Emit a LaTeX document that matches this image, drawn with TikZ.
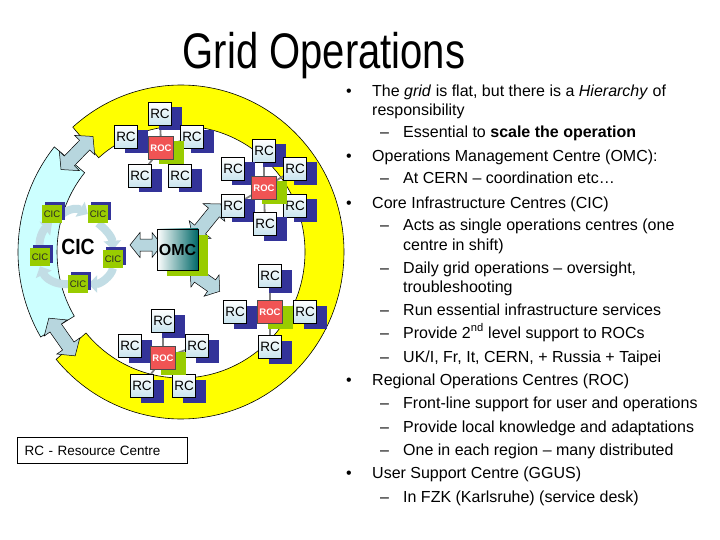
\documentclass[tikz,border=0pt]{standalone}
\usepackage{fontspec}
\setmainfont{Liberation Sans}
\usetikzlibrary{calc,arrows.meta,shadows}
\definecolor{ringY}{RGB}{255,255,0}
\definecolor{ringC}{RGB}{204,255,255}
\definecolor{fatA}{RGB}{183,214,222}
\definecolor{cicA}{RGB}{194,221,229}
\definecolor{navyS}{RGB}{51,51,153}
\definecolor{greenS}{RGB}{153,204,0}
\definecolor{rocR}{RGB}{240,84,84}
\definecolor{rcB}{RGB}{200,228,238}
\definecolor{omcT}{RGB}{0,104,104}
\definecolor{conG}{RGB}{128,128,128}
\pgfdeclarelayer{back}
\pgfdeclarelayer{mid}
\pgfsetlayers{back,mid,main}
\newcommand\DArr[7]{\filldraw[fatarrow,shift={(#1,#2)},rotate=#3]
 (-#4,0) -- (-#4+#7,#6) -- (-#4+#7,#5) -- (#4-#7,#5) -- (#4-#7,#6) -- (#4,0)
 -- (#4-#7,-#6) -- (#4-#7,-#5) -- (-#4+#7,-#5) -- (-#4+#7,-#6) -- cycle;}
\begin{document}
\begin{tikzpicture}[x=1pt,y=-1pt,
 rcbox/.style={draw=black, line width=0.5pt, minimum width=23pt, minimum height=23pt, inner sep=0pt,
   top color=white, bottom color=rcB, font=\fontsize{13.5}{15}\selectfont,
   general shadow={fill=navyS, draw=none, shadow xshift=10pt, shadow yshift=-5pt}},
 rocbox/.style={draw=black!70, line width=0.4pt, fill=rocR, minimum width=25pt, minimum height=23pt,
   inner sep=0pt, text=white, font=\fontsize{9.5}{10}\selectfont\bfseries,
   general shadow={fill=greenS, draw=none, shadow xshift=10pt, shadow yshift=-5pt}},
 cicbox/.style={fill=greenS, minimum width=20pt, minimum height=18pt, inner sep=0pt,
   font=\fontsize{9.5}{10}\selectfont, text=black!85,
   general shadow={fill=navyS, draw=none, shadow xshift=3pt, shadow yshift=3pt}},
 omcbox/.style={draw=black, line width=0.6pt, minimum size=41pt, inner sep=0pt,
   left color=white, right color=omcT, font=\fontsize{16}{18}\selectfont\bfseries,
   general shadow={fill=greenS, draw=none, shadow xshift=10pt, shadow yshift=-6pt}},
 fatarrow/.style={fill=fatA, draw=black, line width=0.5pt, line join=miter},
 cicflow/.style={draw=cicA, line width=8pt, -{Triangle[width=17pt,length=9pt]}},
 con/.style={draw=conG, line width=1.8pt},
 ringedge/.style={draw=black, line width=0.6pt},
 txt/.style={anchor=base west, inner sep=0pt, font=\fontsize{16}{19}\selectfont},
 bul/.style={anchor=base, inner sep=0pt, font=\fontsize{16}{19}\selectfont}
]
\useasboundingbox (0,0) rectangle (720,540);
\begin{pgfonlayer}{back}
\fill[white] (0,0) rectangle (720,540);
\coordinate (C) at (181,252);
\filldraw[ringedge, fill=ringY] ($(C)+(-131.6:163 and 167)$) arc[start angle=-131.6, end angle=140, x radius=163, y radius=167]
  -- ($(C)+(140:124 and 126)$) arc[start angle=140, end angle=-131.6, x radius=124, y radius=126] -- cycle;
\filldraw[ringedge, fill=ringC] ($(C)+(149.4:163 and 167)$) arc[start angle=149.4, end angle=219, x radius=163, y radius=167]
  -- ($(C)+(219:124 and 126)$) arc[start angle=219, end angle=149.4, x radius=124, y radius=126] -- cycle;
\end{pgfonlayer}

% title
\node[anchor=base, inner sep=0pt, font=\fontsize{50}{56}\selectfont] (title) at (324,69) {\scalebox{0.8}[1]{Grid Operations}};

% cluster A
\node[rcbox] (a1) at (160,114) {RC};
\node[rcbox] (a2) at (126,137) {RC};
\node[rcbox] (a3) at (192,137) {RC};
\node[rcbox] (a4) at (140,176) {RC};
\node[rcbox] (a5) at (180,176) {RC};
\node[rocbox] (rocA) at (161,148) {ROC};
% cluster B
\node[rcbox] (b1) at (264,151) {RC};
\node[rcbox] (b2) at (233,169) {RC};
\node[rcbox] (b3) at (295,169) {RC};
\node[rcbox] (b4) at (233,206) {RC};
\node[rcbox] (b5) at (295,206) {RC};
\node[rcbox] (b6) at (265,224) {RC};
\node[rocbox] (rocB) at (264,188) {ROC};
% cluster C
\node[rcbox] (c1) at (270,276) {RC};
\node[rcbox] (c2) at (235,312) {RC};
\node[rcbox] (c3) at (305,312) {RC};
\node[rcbox] (c4) at (270,347) {RC};
\node[rocbox] (rocC) at (270,312) {ROC};
% cluster D
\node[rcbox] (d1) at (163,321) {RC};
\node[rcbox] (d2) at (130,346) {RC};
\node[rcbox] (d3) at (197,346) {RC};
\node[rcbox] (d4) at (142,386) {RC};
\node[rcbox] (d5) at (184,386) {RC};
\node[rocbox] (rocD) at (163,358) {ROC};

% CIC cluster
\node[cicbox] (k1) at (52,214) {CIC};
\node[cicbox] (k2) at (98,214) {CIC};
\node[cicbox] (k3) at (113,259) {CIC};
\node[cicbox] (k4) at (78,284) {CIC};
\node[cicbox] (k5) at (40,257) {CIC};
\node[inner sep=0pt, font=\fontsize{22}{24}\selectfont\bfseries] (cicl) at (78,247) {\scalebox{0.88}[1]{CIC}};

% OMC
\node[omcbox] (omc) at (177.5,249.5) {OMC};

\begin{pgfonlayer}{mid}
\DArr{77}{153}{46}{23}{7}{14}{12}
\DArr{62}{337}{-55}{23}{7}{14}{12}
\DArr{146}{245}{0}{16}{6}{12.5}{10}
\DArr{207}{221}{51}{22}{7}{14}{11}
\DArr{205}{281}{-35}{18}{7}{13}{10}
\foreach \n in {a1,a2,a3,a4,a5} \draw[con] (rocA) -- (\n);
\foreach \n in {b1,b2,b3,b4,b5,b6} \draw[con] (rocB) -- (\n);
\foreach \n in {c1,c2,c3,c4} \draw[con] (rocC) -- (\n);
\foreach \n in {d1,d2,d3,d4,d5} \draw[con] (rocD) -- (\n);
\draw[cicflow] (k1.east) .. controls (70,208) and (78,208) .. (k2.west);
\draw[cicflow] (k2.south) .. controls (104,228) and (112,236) .. (k3.north);
\draw[cicflow] (k3.south) .. controls (111,277) and (100,284) .. (k4.east);
\draw[cicflow] (k4.west) .. controls (56,285) and (46,279) .. (k5.south);
\draw[cicflow] (k5.north) .. controls (38,240) and (43,230) .. (k1.south);
\end{pgfonlayer}

% legend
\node[draw=black, line width=1.3pt, anchor=north west, minimum height=26pt, text width=156pt, inner xsep=7pt,
  align=left, font=\fontsize{13.5}{15}\selectfont] (legend) at (17,437) {RC - Resource Centre};

% bullet text
\node[bul] (p1) at (349,97) {•};
\node[txt] (t1) at (372,97) {The \textit{grid} is flat, but there is a \textit{Hierarchy} of};
\node[txt] (t2) at (372,116) {responsibility};
\node[txt] (d3a) at (380,138) {–};
\node[txt] (t3) at (403,138) {Essential to \textbf{scale the operation}};
\node[bul] (p2) at (349,162) {•};
\node[txt] (t4) at (372,162) {Operations Management Centre (OMC):};
\node[txt] (d5a) at (380,184) {–};
\node[txt] (t5) at (403,184) {At CERN – coordination etc…};
\node[bul] (p3) at (349,208) {•};
\node[txt] (t6) at (372,208) {Core Infrastructure Centres (CIC)};
\node[txt] (d7a) at (380,230) {–};
\node[txt] (t7) at (403,230) {Acts as single operations centres (one};
\node[txt] (t8) at (403,250) {centre in shift)};
\node[txt] (d9a) at (380,273) {–};
\node[txt] (t9) at (403,273) {Daily grid operations – oversight,};
\node[txt] (t10) at (403,292) {troubleshooting};
\node[txt] (d11a) at (380,315) {–};
\node[txt] (t11) at (403,315) {Run essential infrastructure services};
\node[txt] (d12a) at (380,338) {–};
\node[txt] (t12) at (403,338) {Provide 2\textsuperscript{nd} level support to ROCs};
\node[txt] (d13a) at (380,362) {–};
\node[txt] (t13) at (403,362) {UK/I, Fr, It, CERN, + Russia + Taipei};
\node[bul] (p4) at (349,385) {•};
\node[txt] (t14) at (372,385) {Regional Operations Centres (ROC)};
\node[txt] (d15a) at (380,408) {–};
\node[txt] (t15) at (403,408) {Front-line support for user and operations};
\node[txt] (d16a) at (380,432) {–};
\node[txt] (t16) at (403,432) {Provide local knowledge and adaptations};
\node[txt] (d17a) at (380,455) {–};
\node[txt] (t17) at (403,455) {One in each region – many distributed};
\node[bul] (p5) at (349,478) {•};
\node[txt] (t18) at (372,478) {User Support Centre (GGUS)};
\node[txt] (d19a) at (380,502) {–};
\node[txt] (t19) at (403,502) {In FZK (Karlsruhe) (service desk)};
\end{tikzpicture}
\end{document}
